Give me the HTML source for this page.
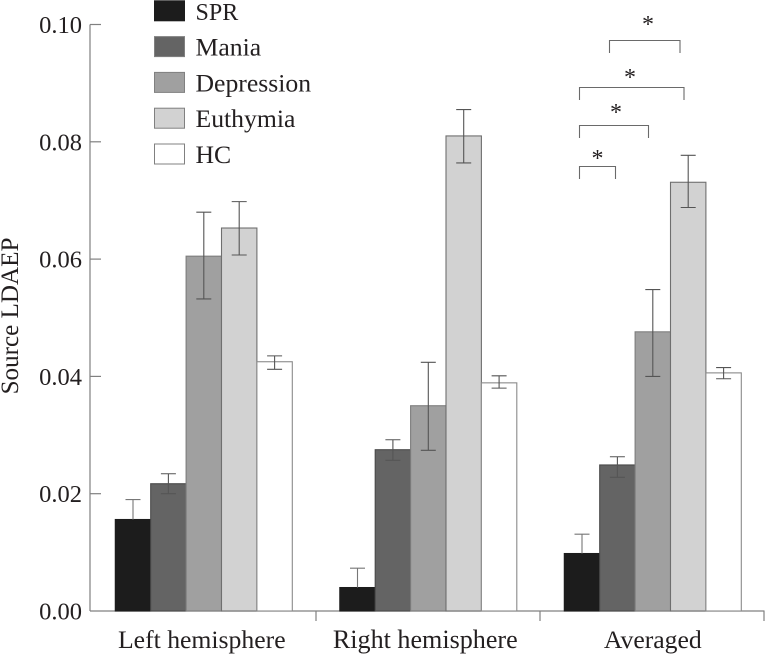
<!DOCTYPE html>
<html>
<head>
<meta charset="utf-8">
<title>Source LDAEP chart</title>
<style>
html,body{margin:0;padding:0;background:#fff;width:765px;height:655px;overflow:hidden}
svg{display:block}
text{font-family:"Liberation Serif",serif;fill:#231f20}
</style>
</head>
<body>
<svg id="chart" width="765" height="655" viewBox="0 0 765 655" xmlns="http://www.w3.org/2000/svg">
  <text transform="translate(18,316) rotate(-90)" text-anchor="middle" font-size="25.1">Source LDAEP</text>
  <g id="axes"></g>
  <g id="bars"></g>
  <g id="legend"></g>
  <g fill="none" stroke="#6a6a6a" stroke-width="1.1">
    <path d="M579.5 179V166.5H615.5V179"/>
    <path d="M579.5 138V125.5H648.5V138"/>
    <path d="M579.5 100V87.5H684V100"/>
    <path d="M609.5 53V40.5H680V53"/>
  </g>
  <g font-size="24" text-anchor="middle">
    <text x="597.5" y="166">*</text>
    <text x="616" y="120">*</text>
    <text x="630" y="85">*</text>
    <text x="648" y="32">*</text>
  </g>
</svg>
<script>
const categories = ["Left hemisphere", "Right hemisphere", "Averaged"];
const seriesNames = ["SPR", "Mania", "Depression", "Euthymia", "HC"];
const tickValues = [0, 0.02, 0.04, 0.06, 0.08, 0.10];
const tickLabels = ["0.00", "0.02", "0.04", "0.06", "0.08", "0.10"];

const sprValues = [0.0156, 0.0040, 0.0098];
const sprUpper = [0.0190, 0.0073, 0.0131];
const sprLower = [0.0122, 0.0007, 0.0065];

const maniaValues = [0.0217, 0.0275, 0.0249];
const maniaUpper = [0.0234, 0.0292, 0.0263];
const maniaLower = [0.0200, 0.0257, 0.0228];

const depressionValues = [0.0605, 0.0350, 0.0476];
const depressionUpper = [0.0680, 0.0424, 0.0548];
const depressionLower = [0.0532, 0.0274, 0.0400];

const euthymiaValues = [0.0653, 0.0810, 0.0731];
const euthymiaUpper = [0.0698, 0.0855, 0.0777];
const euthymiaLower = [0.0607, 0.0764, 0.0688];

const hcValues = [0.0425, 0.0389, 0.0406];
const hcUpper = [0.0435, 0.0401, 0.0415];
const hcLower = [0.0412, 0.0380, 0.0396];

const NS = "http://www.w3.org/2000/svg";
const allValues = [sprValues, maniaValues, depressionValues, euthymiaValues, hcValues];
const allUpper = [sprUpper, maniaUpper, depressionUpper, euthymiaUpper, hcUpper];
const allLower = [sprLower, maniaLower, depressionLower, euthymiaLower, hcLower];
const fills = ["#1c1c1c", "#646464", "#a0a0a0", "#d2d2d2", "#ffffff"];
const strokes = ["#1c1c1c", "#4a4a4a", "#7d7d7d", "#6f6f6f", "#8a8a8a"];

const axisLeft = 90, axisRight = 764.5, baseY = 611, topY = 24.5;
const groupStart = 115.3, groupStep = 224.5, barWidth = 35.4;

function yScale(v) { return baseY - (v / 0.10) * (baseY - topY); }
function xScale(g, s) { return groupStart + g * groupStep + s * barWidth; }

function make(tag, attrs, parent, text) {
  const el = document.createElementNS(NS, tag);
  for (const k in attrs) el.setAttribute(k, attrs[k]);
  if (text !== undefined) el.textContent = text;
  parent.appendChild(el);
  return el;
}

const axes = document.getElementById("axes");
const barsG = document.getElementById("bars");
const legendG = document.getElementById("legend");
const axisStyle = { stroke: "#808080", "stroke-width": 1.2, fill: "none" };

const yLine = make("path", Object.assign({ d: `M${axisLeft} ${topY}V${baseY}` }, axisStyle), axes);



const xLine = make("path", Object.assign({ d: `M${axisLeft} ${baseY}H${axisRight}` }, axisStyle), axes);



tickValues.forEach(function (v, i) {
  const y = yScale(v);
  if (i > 0) {
    const tick = make("path", Object.assign({ d: `M${axisLeft} ${y}h11` }, axisStyle), axes);
    
    
  }
  const label = make("text", { x: 82, y: y + 8.5, "text-anchor": "end", "font-size": 24.5 }, axes, tickLabels[i]);
  
  
});

categories.forEach(function (c, g) {
  const tx = 316 + g * 224;
  const tick = make("path", Object.assign({ d: `M${tx} ${baseY}v10` }, axisStyle), axes);
  
  
  const nudge = g === 0 ? -2 : (g === 1 ? -3 : 0);
  const label = make("text", { x: xScale(g, 2.5) + nudge, y: 648, "text-anchor": "middle", "font-size": g === 1 ? 26.1 : 25.7 }, axes, c);
  
  
});

seriesNames.forEach(function (name, s) {
  categories.forEach(function (c, g) {
    const v = allValues[s][g];
    const x = xScale(g, s);
    const bar = make("rect", {
      x: x, y: yScale(v), width: barWidth, height: baseY - yScale(v),
      fill: fills[s], stroke: strokes[s], "stroke-width": 1.1
    }, barsG);
    
    
  });
});

seriesNames.forEach(function (name, s) {
  categories.forEach(function (c, g) {
    const cx = xScale(g, s) + barWidth / 2;
    const yu = yScale(allUpper[s][g]);
    const yl = yScale(allLower[s][g]);
    const yv = yScale(allValues[s][g]);
    const err = make("path", {
      d: s === 0
        ? `M${cx} ${yu}V${yv}M${cx - 7.5} ${yu}h15`
        : `M${cx} ${yu}V${yl}M${cx - 7.5} ${yu}h15M${cx - 7.5} ${yl}h15`,
      stroke: s === 0 ? "#777" : "#555", "stroke-width": 1.1, fill: "none"
    }, barsG);
    
    
    if (s === 0) {
      const hidden = make("path", {
        d: `M${cx} ${yv}V${yl}M${cx - 7.5} ${yl}h15`,
        stroke: fills[0], "stroke-width": 1.1, fill: "none"
      }, barsG);
      
      
    }
  });
});

seriesNames.forEach(function (name, s) {
  const y = 0.8 + s * 35.8;
  const swatch = make("rect", {
    x: 154.5, y: y, width: 30, height: 20,
    fill: fills[s], stroke: s === 0 ? fills[0] : "#808080", "stroke-width": 1
  }, legendG);
  
  
  const label = make("text", { x: 195.5, y: y + 19, "font-size": s === 0 ? 24 : 25.7 }, legendG, name);
  
  
});
</script>
</body>
</html>
